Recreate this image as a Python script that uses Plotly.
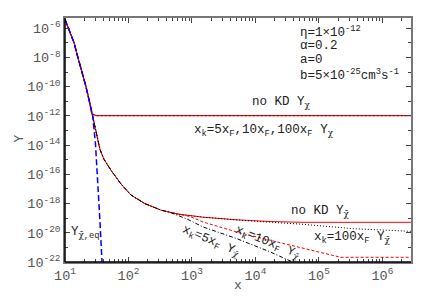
import plotly.graph_objects as go

# ---- data ----
x_eq = [10, 11.7, 13.9, 15.5, 18.2, 21.4, 24.5, 27.3, 30.2, 32.5, 35.5, 38.3]
y_eq = [4e-6, 6.3e-7, 1e-7, 1.6e-8, 1.3e-9, 1e-10, 7.9e-12, 1e-12, 1.3e-14, 1e-16, 6.3e-20, 1e-22]

x_chi = [10, 11.7, 13.9, 15.5, 18.2, 21.4, 24.5, 26.3, 28, 31, 40, 100, 1e3, 1e4, 1e5, 1e6, 2.8e6]
y_chi = [4e-6, 6.3e-7, 1e-7, 1.6e-8, 1.3e-9, 1e-10, 7.9e-12, 1.5e-12, 1.25e-12, 1.05e-12, 1.05e-12,
         1.05e-12, 1.05e-12, 1.05e-12, 1.05e-12, 1.05e-12, 1.05e-12]

x_bar_nokd = [10, 11.7, 13.9, 15.5, 18.2, 21.4, 24.5, 27.3, 31.3, 33.7, 35.6, 41.1, 53.0, 76.2, 109, 182,
              325, 602, 1490, 5120, 16900, 56000, 2.8e6]
y_bar_nokd = [4e-6, 6.3e-7, 1e-7, 1.6e-8, 1.3e-9, 1e-10, 7.9e-12, 1e-12, 6.0e-14, 1.5e-14, 5.0e-15, 1.07e-15,
              1.9e-16, 2.2e-17, 3.9e-18, 9.8e-19, 3.55e-19, 1.9e-19, 1.17e-19, 7.7e-20, 5.9e-20, 5.2e-20, 5.2e-20]

x_bar_100 = [10, 11.7, 13.9, 15.5, 18.2, 21.4, 24.5, 27.3, 31.3, 33.7, 35.6, 41.1, 53.0, 76.2, 109, 182,
             325, 602, 1490, 5120, 16900, 56000, 1.38e5, 3.5e5, 2.8e6]
y_bar_100 = [4e-6, 6.3e-7, 1e-7, 1.6e-8, 1.3e-9, 1e-10, 7.9e-12, 1e-12, 6.0e-14, 1.5e-14, 5.0e-15, 1.07e-15,
             1.9e-16, 2.2e-17, 3.9e-18, 9.8e-19, 3.55e-19, 1.9e-19, 1.17e-19, 7.5e-20, 5.6e-20, 3.8e-20,
             2.7e-20, 1.9e-20, 1.26e-20]

x_bar_10 = [10, 11.7, 13.9, 15.5, 18.2, 21.4, 24.5, 27.3, 31.3, 33.7, 35.6, 41.1, 53.0, 76.2, 109, 182,
            325, 602, 931, 1490, 5120, 16900, 56000, 1.92e5, 2.2e5, 2.8e6]
y_bar_10 = [4e-6, 6.3e-7, 1e-7, 1.6e-8, 1.3e-9, 1e-10, 7.9e-12, 1e-12, 6.0e-14, 1.5e-14, 5.0e-15, 1.07e-15,
            1.9e-16, 2.2e-17, 3.9e-18, 9.8e-19, 3.55e-19, 1.9e-19, 1.3e-19, 5.5e-20, 1.12e-20, 3.1e-21,
            8.5e-22, 2.3e-22, 2.1e-22, 2.1e-22]

x_bar_5 = [10, 11.7, 13.9, 15.5, 18.2, 21.4, 24.5, 27.3, 31.3, 33.7, 35.6, 41.1, 53.0, 76.2, 109, 182,
           325, 451, 826, 1510, 5060, 16900, 39400, 50000]
y_bar_5 = [4e-6, 6.3e-7, 1e-7, 1.6e-8, 1.3e-9, 1e-10, 7.9e-12, 1e-12, 6.0e-14, 1.5e-14, 5.0e-15, 1.07e-15,
           1.9e-16, 2.2e-17, 3.9e-18, 9.8e-19, 3.55e-19, 2.5e-19, 8.9e-20, 2.45e-20, 4e-21, 5e-22,
           1.05e-22, 6e-23]

y_tick_exp = [-22, -20, -18, -16, -14, -12, -10, -8, -6]
x_tick_exp = [1, 2, 3, 4, 5, 6]

FONT = "Liberation Mono, Courier New, monospace"
CHI = '<span style="font-family:DejaVu Serif">χ</span>'
CHIBAR = '<span style="font-family:DejaVu Serif">χ\u0304</span>'

fig = go.Figure()

# anti-particle curves
fig.add_trace(go.Scatter(x=x_bar_nokd, y=y_bar_nokd, mode="lines",
                         line=dict(color="red", width=1)))
fig.add_trace(go.Scatter(x=x_bar_100, y=y_bar_100, mode="lines",
                         line=dict(color="black", width=1, dash="1px,2px")))
fig.add_trace(go.Scatter(x=x_bar_10, y=y_bar_10, mode="lines",
                         line=dict(color="red", width=1, dash="3px,2px")))
fig.add_trace(go.Scatter(x=x_bar_5, y=y_bar_5, mode="lines",
                         line=dict(color="black", width=1, dash="4px,2px,1px,2px")))
# particle curves (all KD models coincide)
fig.add_trace(go.Scatter(x=x_chi, y=y_chi, mode="lines",
                         line=dict(color="red", width=1.2)))
fig.add_trace(go.Scatter(x=x_chi, y=y_chi, mode="lines",
                         line=dict(color="black", width=1, dash="1px,3px")))
# equilibrium
fig.add_trace(go.Scatter(x=x_eq, y=y_eq, mode="lines",
                         line=dict(color="blue", width=1.5, dash="6px,3px")))

xminor = [m * 10 ** e for e in range(1, 7) for m in range(2, 10)]
yminor = [10.0 ** e for e in range(-22, -4, 1)]

axis_common = dict(type="log", ticks="inside", ticklen=5, tickcolor="#444", showline=True,
                   linecolor="#777", linewidth=1.5, mirror="allticks", showgrid=False, zeroline=False,
                   tickfont=dict(family=FONT, size=13.5, color="#555"))
fig.update_xaxes(range=[1, 6.45],
                 tickvals=[10 ** e for e in x_tick_exp],
                 ticktext=[f"10<sup>{e}</sup>" for e in x_tick_exp],
                 minor=dict(tickvals=xminor, ticks="inside", ticklen=3, tickcolor="#444", showgrid=False),
                 **axis_common)
fig.update_yaxes(range=[-22, -5.3],
                 tickvals=[10.0 ** e for e in y_tick_exp],
                 ticktext=[f"10<sup>{e}</sup>" for e in y_tick_exp],
                 minor=dict(tickvals=yminor, ticks="inside", ticklen=3, tickcolor="#444", showgrid=False),
                 **axis_common)

# target pixel geometry of the plot area (page coordinates)
L, R, T, B = 65, 411, 16, 262
OFF = 8  # default page body margin
W, H = 436 - OFF, 305 - OFF


def px(x):
    return (x - L) / (R - L)


def py(y):
    return (B - y) / (B - T)


ann = []


def add(text, x, y, xanchor="center", angle=0, size=12.5):
    ann.append(dict(text=text, x=px(x), y=py(y), xref="paper", yref="paper", showarrow=False,
                    xanchor=xanchor, yanchor="middle", textangle=angle,
                    font=dict(family=FONT, size=size, color="#222")))


add("η=1×10<sup>-12</sup>", 298, 30, xanchor="left")
add("α=0.2", 298, 44, xanchor="left")
add("a=0", 298, 58, xanchor="left")
add("b=5×10<sup>-25</sup>cm<sup>3</sup>s<sup>-1</sup>", 298, 73, xanchor="left")
add(f"no KD Y<sub>{CHI}</sub>", 281, 101)
add(f"x<sub>k</sub>=5x<sub>F</sub>,10x<sub>F</sub>,100x<sub>F</sub> Y<sub>{CHI}</sub>", 264, 130)
add(f"no KD Y<sub>{CHIBAR}</sub>", 320, 211)
add(f"x<sub>k</sub>=100x<sub>F</sub> Y<sub>{CHIBAR}</sub>", 352, 238)
add(f"x<sub>k</sub>=10x<sub>F</sub> Y<sub>{CHIBAR}</sub>", 267, 243, angle=22)
add(f"x<sub>k</sub>=5x<sub>F</sub> Y<sub>{CHIBAR}</sub>", 211, 242, angle=23)
add(f"Y<sub>{CHIBAR},eq</sub>", 85, 233)
# axis titles
ann.append(dict(text="Y", x=px(10), y=py(138), xref="paper", yref="paper", showarrow=False,
                textangle=-90, font=dict(family=FONT, size=13, color="#555")))
ann.append(dict(text="x", x=px(238), y=py(295), xref="paper", yref="paper", showarrow=False,
                font=dict(family=FONT, size=13, color="#555")))

fig.update_layout(
    width=W, height=H,
    margin=dict(l=L - OFF, r=436 - R, t=T - OFF, b=305 - B),
    paper_bgcolor="white", plot_bgcolor="white",
    showlegend=False,
    annotations=ann,
    shapes=[
        dict(type="line", xref="paper", yref="paper", x0=0, x1=0, y0=0, y1=1,
             line=dict(color="black", width=1.5)),
        dict(type="line", xref="paper", yref="paper", x0=0, x1=1, y0=0, y1=0,
             line=dict(color="black", width=1.5)),
    ],
)

fig.write_html("out.html")
